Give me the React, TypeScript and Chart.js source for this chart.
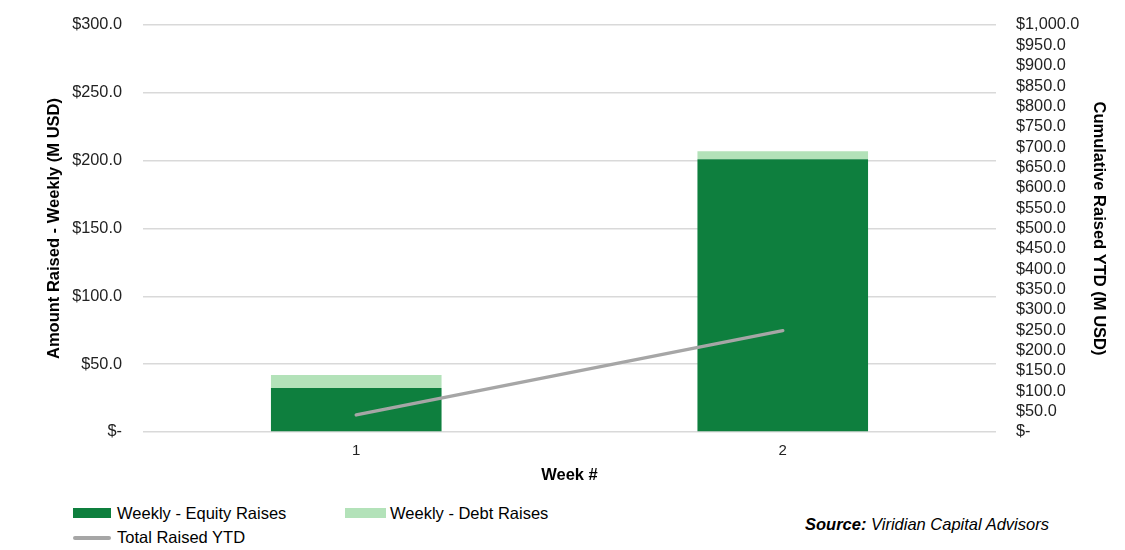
import React, { useEffect, useRef } from "react";
import { Chart, registerables } from "chart.js";

Chart.register(...registerables);

const weeks = ["1", "2"];
const equityRaises = [32.4, 201.0];
const debtRaises = [9.6, 6.0];
const totalRaisedYTD = [42.0, 249.0];

const leftTitle = "Amount Raised - Weekly (M USD)";
const rightTitle = "Cumulative Raised YTD (M USD)";
const xTitle = "Week #";

const EQUITY = "#0E7F3E";
const DEBT = "#B3E2B9";
const LINE = "#A6A6A6";
const FONT = "Arial, 'Liberation Sans', sans-serif";

function money(v: number): string {
  if (v === 0) return "$-";
  return "$" + v.toLocaleString("en-US", { minimumFractionDigits: 1, maximumFractionDigits: 1 });
}

export default function App() {
  const ref = useRef<HTMLCanvasElement | null>(null);
  useEffect(() => {
    if (!ref.current) return;
    const chart = new Chart(ref.current, {
      type: "bar",
      data: {
        labels: weeks,
        datasets: [
          {
            type: "line",
            label: "Total Raised YTD",
            data: totalRaisedYTD,
            yAxisID: "y2",
            borderColor: LINE,
            backgroundColor: LINE,
            borderWidth: 3.5,
            borderCapStyle: "round",
            pointRadius: 0,
            order: 0,
          } as any,
          {
            label: "Weekly - Equity Raises",
            data: equityRaises,
            backgroundColor: EQUITY,
            yAxisID: "y",
            stack: "s",
            order: 1,
          },
          {
            label: "Weekly - Debt Raises",
            data: debtRaises,
            backgroundColor: DEBT,
            yAxisID: "y",
            stack: "s",
            order: 1,
          },
        ],
      },
      options: {
        animation: false,
        responsive: false,
        devicePixelRatio: 1,
        layout: { padding: { top: 25, left: 0, right: 0, bottom: 0 } },
        plugins: { legend: { display: false }, tooltip: { enabled: false } },
        datasets: { bar: { barPercentage: 0.4, categoryPercentage: 1 } } as any,
        scales: {
          x: {
            stacked: true,
            grid: { display: false, drawTicks: false },
            border: { display: false },
            ticks: { color: "#222", font: { family: FONT, size: 15 }, padding: 10 },
            title: {
              display: true,
              text: xTitle,
              color: "#000",
              font: { family: FONT, size: 16.5, weight: "bold" },
              padding: { top: 0, bottom: 5 },
            },
            afterFit: (s: any) => {
              s.height = 58;
            },
          },
          y: {
            stacked: true,
            position: "left",
            min: 0,
            max: 300,
            grid: { color: "#D9D9D9", lineWidth: 1.5, drawTicks: false },
            border: { display: false },
            ticks: {
              stepSize: 50,
              color: "#222",
              font: { family: FONT, size: 16.3 },
              padding: 21,
              callback: (v: any) => money(Number(v)),
            },
            title: {
              display: true,
              text: leftTitle,
              color: "#000",
              font: { family: FONT, size: 16.5, weight: "bold" },
              padding: { top: 45, bottom: 0 },
            },
            afterFit: (s: any) => {
              s.width = 143;
              s.paddingTop = 0;
              s.paddingBottom = 0;
            },
          },
          y2: {
            position: "right",
            min: 0,
            max: 1000,
            grid: { display: false, drawTicks: false },
            border: { display: false },
            ticks: {
              stepSize: 50,
              autoSkip: false,
              color: "#222",
              font: { family: FONT, size: 16.3 },
              padding: 20,
              callback: (v: any) => money(Number(v)),
            },
            title: {
              display: true,
              text: rightTitle,
              color: "#000",
              font: { family: FONT, size: 16.5, weight: "bold" },
              padding: { top: 17, bottom: 0 },
            },
            afterFit: (s: any) => {
              s.width = 129;
              s.paddingTop = 0;
              s.paddingBottom = 0;
            },
          },
        },
      },
    });
    return () => chart.destroy();
  }, []);

  const txt: React.CSSProperties = {
    position: "absolute",
    fontFamily: FONT,
    fontSize: 16.5,
    color: "#000",
    lineHeight: "20px",
    whiteSpace: "nowrap",
  };

  return (
    <div
      style={{
        position: "fixed",
        left: 0,
        top: 0,
        width: 1125,
        height: 550,
        background: "#fff",
        overflow: "hidden",
      }}
    >
      <canvas ref={ref} width={1125} height={490} style={{ width: 1125, height: 490, display: "block" }} />
      <div style={{ position: "absolute", left: 73, top: 508, width: 38, height: 10, background: EQUITY }} />
      <div style={{ ...txt, left: 117, top: 503 }}>Weekly - Equity Raises</div>
      <div style={{ position: "absolute", left: 345, top: 508, width: 41, height: 10, background: DEBT }} />
      <div style={{ ...txt, left: 390, top: 503 }}>Weekly - Debt Raises</div>
      <div style={{ position: "absolute", left: 73, top: 536, width: 38, height: 4, borderRadius: 2, background: LINE }} />
      <div style={{ ...txt, left: 117, top: 527 }}>Total Raised YTD</div>
      <div style={{ ...txt, left: 805, top: 514, fontStyle: "italic" }}>
        <b>Source:</b> Viridian Capital Advisors
      </div>
    </div>
  );
}
